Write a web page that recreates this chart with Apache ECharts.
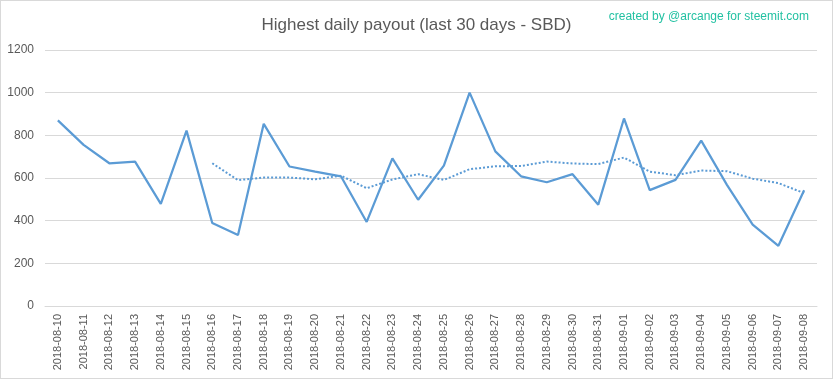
<!DOCTYPE html>
<html>
<head>
<meta charset="utf-8">
<script src="https://cdn.jsdelivr.net/npm/echarts@6/dist/echarts.min.js"></script>
<style>
html,body{margin:0;padding:0;background:#fff;}
#c{width:833px;height:379px;box-sizing:border-box;border:1px solid #d9d9d9;}
</style>
</head>
<body>
<div id="c"></div>
<script>
const categories = ['2018-08-10','2018-08-11','2018-08-12','2018-08-13','2018-08-14','2018-08-15','2018-08-16','2018-08-17','2018-08-18','2018-08-19','2018-08-20','2018-08-21','2018-08-22','2018-08-23','2018-08-24','2018-08-25','2018-08-26','2018-08-27','2018-08-28','2018-08-29','2018-08-30','2018-08-31','2018-09-01','2018-09-02','2018-09-03','2018-09-04','2018-09-05','2018-09-06','2018-09-07','2018-09-08'];
const payout = [870,755,669,677,479,822,389,333,854,654,630,608,394,692,498,658,1000,725,608,580,618,475,879,543,591,775,568,381,282,543];
const movingAvg = [null,null,null,null,null,null,669,590,602,602,594,611,552,593,618,591,641,655,656,677,668,665,696,630,613,635,632,597,576,529];
const yTicks = {min:0, max:1200, interval:200};

const chart = echarts.init(document.getElementById('c'), null, {renderer:'canvas'});
chart.setOption({
  animation:false,
  title:[{
    text:'Highest daily payout (last 30 days - SBD)',
    left:'center', top:11,
    textStyle:{color:'#595959', fontSize:17, fontWeight:'normal', fontFamily:'Liberation Sans'}
  },{
    text:'created by @arcange for steemit.com',
    right:18, top:5,
    textStyle:{color:'#22C1A2', fontSize:12, fontWeight:'normal', fontFamily:'Liberation Sans'}
  }],
  grid:{left:44, right:15, top:49, bottom:72, containLabel:false},
  xAxis:{
    type:'category', data:categories, boundaryGap:true,
    axisLine:{lineStyle:{color:'#d9d9d9'}},
    axisTick:{show:false},
    axisLabel:{rotate:90, color:'#595959', fontSize:11, fontFamily:'Liberation Sans', margin:8, interval:0}
  },
  yAxis:{
    type:'value', min:yTicks.min, max:yTicks.max, interval:yTicks.interval,
    axisLine:{show:false}, axisTick:{show:false},
    splitLine:{lineStyle:{color:'#d9d9d9'}},
    axisLabel:{color:'#595959', fontSize:12, fontFamily:'Liberation Sans', margin:11, formatter:v=>String(v)}
  },
  series:[{
    type:'line', data:payout, symbol:'none',
    lineStyle:{color:'#5B9BD5', width:2.25}
  },{
    type:'line', data:movingAvg, symbol:'none',
    lineStyle:{color:'#5B9BD5', width:2, type:'dotted'}
  }]
});
</script>
</body>
</html>
